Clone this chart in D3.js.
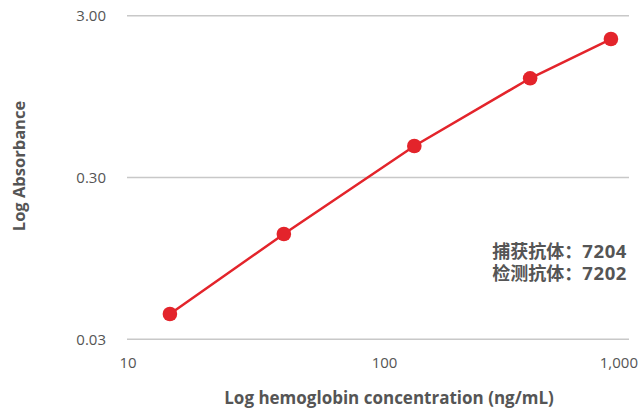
<!DOCTYPE html>
<html><head><meta charset="utf-8">
<script src="https://cdn.jsdelivr.net/npm/d3@7"></script>
<style>
body{margin:0;background:#fff;}
text{font-family:"Open Sans","Lato",sans-serif;}
</style></head>
<body><svg id="c" width="641" height="409"></svg>
<script>
const concentrations = [14.7, 41.9, 139, 403, 847];
const absorbance = [0.0430, 0.1343, 0.4695, 1.231, 2.153];
const xTicks = [10, 100, 1000];
const xTickLabels = ["10", "100", "1,000"];
const yTicks = [0.03, 0.3, 3];
const yTickLabels = ["0.03", "0.30", "3.00"];
const annotationLabels = ["捕获抗体：", "检测抗体："];
const annotationValues = ["7204", "7202"];

const svg = d3.select("#c");
const x = d3.scaleLog().domain([10, 1000]).range([128, 629]);
const y = d3.scaleLog().domain([0.03, 3]).range([339.3, 15.7]);
const grey = "#555";

// gridlines
svg.append("g").selectAll("line").data(yTicks).join("line")
  .attr("x1", 127).attr("x2", 629)
  .attr("y1", d => y(d)).attr("y2", d => y(d))
  .attr("stroke", "#c8c8c8").attr("stroke-width", 1.5);

// y tick labels
svg.append("g").selectAll("text").data(yTicks).join("text")
  .attr("x", 106).attr("y", d => y(d)).attr("dy", "0.36em")
  .attr("text-anchor", "end").attr("fill", grey).attr("font-size", 15)
  .text((d, i) => yTickLabels[i]);

// x tick labels
const xAnchor = ["middle", "middle", "end"];
const xShift = [0, 6, 9];
svg.append("g").selectAll("text").data(xTicks).join("text")
  .attr("x", (d, i) => x(d) + xShift[i]).attr("y", 363).attr("dy", "0.36em")
  .attr("text-anchor", (d, i) => xAnchor[i]).attr("fill", grey).attr("font-size", 15)
  .text((d, i) => xTickLabels[i]);

// axis titles
svg.append("text").attr("x", 389).attr("y", 398).attr("dy", "0.36em")
  .attr("text-anchor", "middle").attr("fill", grey).attr("font-size", 17).attr("font-weight", "bold")
  .text("Log hemoglobin concentration (ng/mL)");
svg.append("text").attr("transform", "translate(19,166) rotate(-90)").attr("dy", "0.36em")
  .attr("text-anchor", "middle").attr("fill", grey).attr("font-size", 16.5).attr("font-weight", "bold")
  .text("Log Absorbance");

// line + points
const data = concentrations.map((c, i) => ({c, a: absorbance[i]}));
svg.append("path").datum(data)
  .attr("d", d3.line().x(d => x(d.c)).y(d => y(d.a)))
  .attr("fill", "none").attr("stroke", "#e3242b").attr("stroke-width", 2.5);
svg.append("g").selectAll("circle").data(data).join("circle")
  .attr("cx", d => x(d.c)).attr("cy", d => y(d.a)).attr("r", 7.3)
  .attr("fill", "#e3242b");

// annotation (one text block, two lines)
const ann = svg.append("text")
  .attr("text-anchor", "end").attr("fill", grey).attr("font-size", 18).attr("font-weight", "bold")
  .style("font-family", "'Noto Sans CJK SC',sans-serif");
annotationLabels.forEach((lab, i) => {
  ann.append("tspan").attr("x", 627).attr("y", 252 + i * 21.3).attr("dy", "0.36em").text(lab);
  ann.append("tspan").style("font-family", "'Open Sans',sans-serif").attr("font-size", 18.5)
    .attr("letter-spacing", 0.6).text(annotationValues[i]);
});
</script></body></html>
